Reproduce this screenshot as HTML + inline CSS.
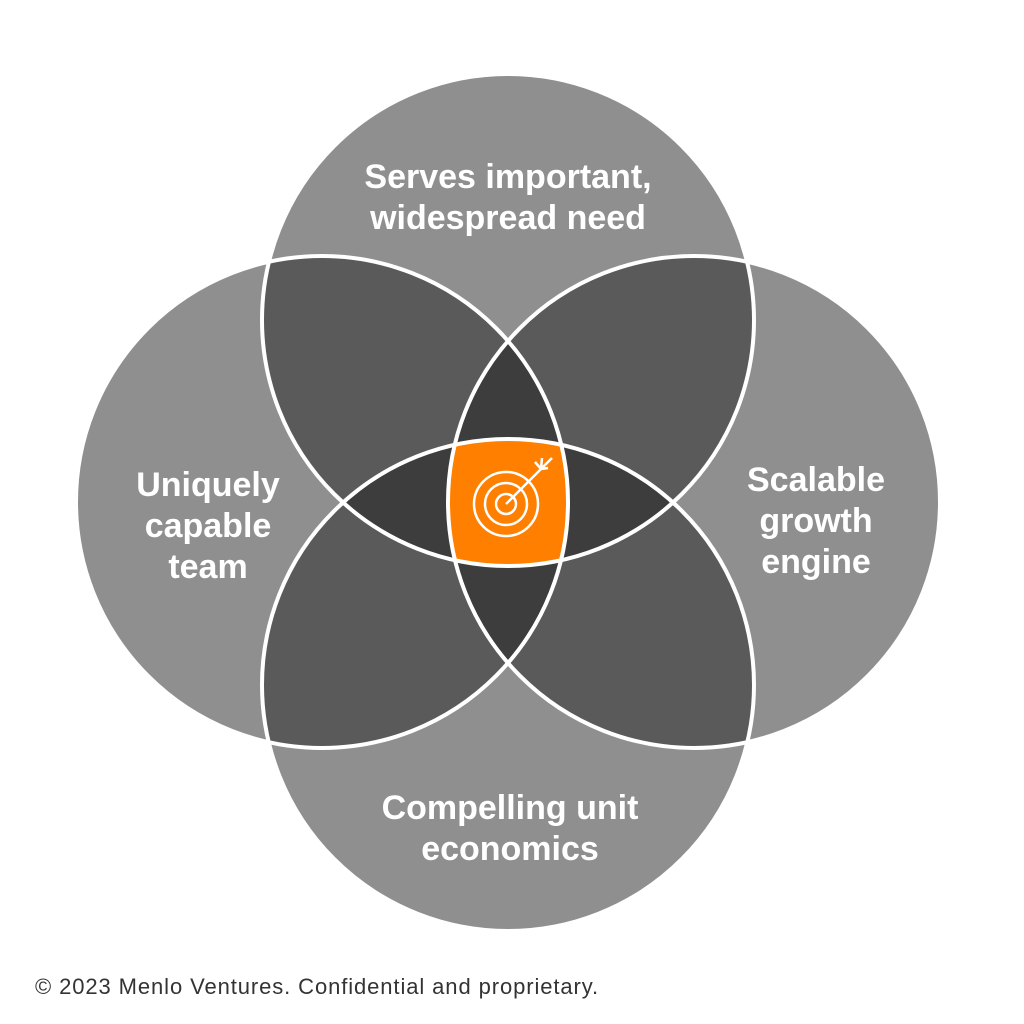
<!DOCTYPE html>
<html><head><meta charset="utf-8"><style>
html,body{margin:0;padding:0;background:#fff;}
svg{display:block;}
</style></head><body>
<svg width="1024" height="1024" viewBox="0 0 1024 1024" xmlns="http://www.w3.org/2000/svg">
<defs>
<clipPath id="cT"><circle cx="508" cy="320" r="246"/></clipPath>
<clipPath id="cB"><circle cx="508" cy="685" r="246"/></clipPath>
<clipPath id="cL"><circle cx="322" cy="502" r="246"/></clipPath>
<clipPath id="cR"><circle cx="694" cy="502" r="246"/></clipPath>
</defs>
<rect width="1024" height="1024" fill="#fff"/>
<g fill="#8f8f8f">
<circle cx="508" cy="320" r="246"/>
<circle cx="508" cy="685" r="246"/>
<circle cx="322" cy="502" r="246"/>
<circle cx="694" cy="502" r="246"/>
</g>
<g fill="#5a5a5a">
<g clip-path="url(#cT)"><circle cx="322" cy="502" r="246"/><circle cx="694" cy="502" r="246"/><circle cx="508" cy="685" r="246"/></g>
<g clip-path="url(#cB)"><circle cx="322" cy="502" r="246"/><circle cx="694" cy="502" r="246"/></g>
<g clip-path="url(#cL)"><circle cx="694" cy="502" r="246"/></g>
</g>
<g fill="#3d3d3d">
<g clip-path="url(#cT)"><g clip-path="url(#cL)"><circle cx="694" cy="502" r="246"/><circle cx="508" cy="685" r="246"/></g></g>
<g clip-path="url(#cB)"><g clip-path="url(#cL)"><circle cx="694" cy="502" r="246"/></g></g>
<g clip-path="url(#cB)"><g clip-path="url(#cR)"><circle cx="508" cy="320" r="246"/></g></g>
</g>
<g clip-path="url(#cT)"><g clip-path="url(#cB)"><g clip-path="url(#cL)"><circle cx="694" cy="502" r="246" fill="#ff7f00"/></g></g></g>
<g fill="none" stroke="#fff" stroke-width="4">
<circle cx="508" cy="320" r="246"/>
<circle cx="508" cy="685" r="246"/>
<circle cx="322" cy="502" r="246"/>
<circle cx="694" cy="502" r="246"/>
</g>
<g fill="none" stroke="#fff" stroke-width="2.5">
<circle cx="506" cy="504" r="32"/>
<circle cx="506" cy="504" r="21"/>
<circle cx="506" cy="504" r="10"/>
<line x1="506" y1="504" x2="545" y2="465"/>
<path d="M535 462 L541 469 L548 468 M542 458 L541 469 M545 465 L552 458"/>
</g>
<g fill="#fff" font-family="Liberation Sans, sans-serif" font-weight="bold" font-size="34" text-anchor="middle">
<text x="508" y="188">Serves important,</text>
<text x="508" y="229">widespread need</text>
<text x="208" y="496">Uniquely</text>
<text x="208" y="537">capable</text>
<text x="208" y="578">team</text>
<text x="816" y="491">Scalable</text>
<text x="816" y="532">growth</text>
<text x="816" y="573">engine</text>
<text x="510" y="819">Compelling unit</text>
<text x="510" y="860">economics</text>
</g>
<text x="35" y="994" font-family="Liberation Sans, sans-serif" font-size="22" letter-spacing="0.9" fill="#333">© 2023 Menlo Ventures. Confidential and proprietary.</text>
</svg>
</body></html>
